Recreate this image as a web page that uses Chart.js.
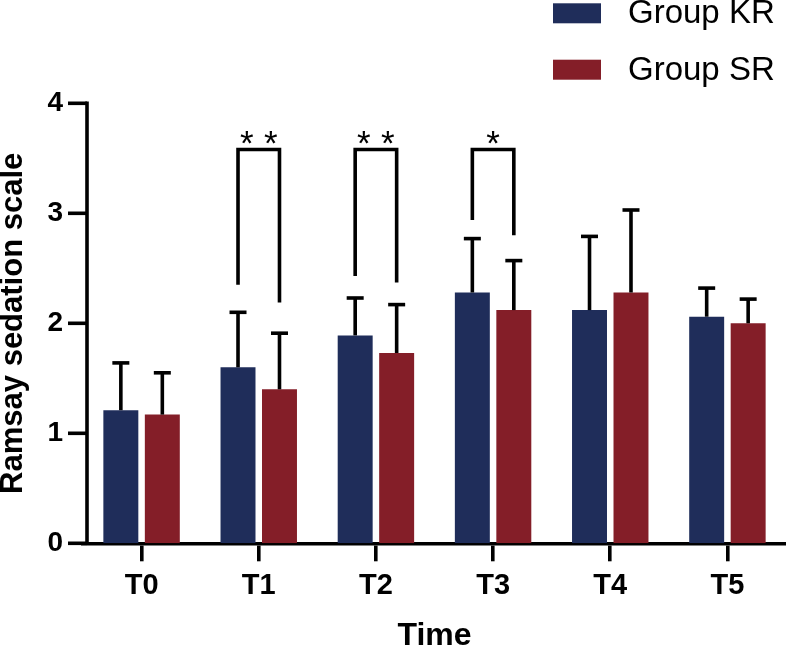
<!DOCTYPE html>
<html><head><meta charset="utf-8">
<script src="https://cdn.jsdelivr.net/npm/chart.js@4"></script>
<style>html,body{margin:0;padding:0;background:#fff;}#wrap{width:786px;height:651px;position:relative;}</style>
</head><body><div id="wrap"><canvas id="c" width="786" height="651"></canvas></div>
<script>
const categories = ['T0', 'T1', 'T2', 'T3', 'T4', 'T5'];
const seriesNames = ['Group KR', 'Group SR'];
const krMean = [1.21, 1.60, 1.89, 2.28, 2.12, 2.06];
const srMean = [1.17, 1.40, 1.73, 2.12, 2.28, 2.00];
const krSD = [0.43, 0.50, 0.34, 0.49, 0.67, 0.26];
const srSD = [0.38, 0.51, 0.44, 0.45, 0.75, 0.22];
const yTicks = [0, 1, 2, 3, 4];
const bracketCats = [1, 2, 3];
const bracketTop = [3.58, 3.58, 3.58];
const bracketLeftEnd = [2.35, 2.43, 2.94];
const bracketRightEnd = [2.19, 2.37, 2.80];
const bracketStars = [2, 2, 1];
const xTitle = 'Time';
const yTitle = 'Ramsay sedation scale';

const FONT = '"Liberation Sans", Arial, Helvetica, sans-serif';
const colors = ['#1f2d5a', '#841e28'];
const sds = [krSD, srSD];

const overlay = {
  id: 'overlay',
  afterDatasetsDraw(chart) {
    const ctx = chart.ctx, ys = chart.scales.y;
    ctx.save();
    ctx.strokeStyle = '#000';
    ctx.lineWidth = 3.6;
    ctx.lineCap = 'butt';
    ctx.lineJoin = 'miter';
    sds.forEach((sd, di) => {
      const meta = chart.getDatasetMeta(di);
      meta.data.forEach((bar, j) => {
        const v = chart.data.datasets[di].data[j];
        const yt = ys.getPixelForValue(v + sd[j]);
        ctx.beginPath(); ctx.moveTo(bar.x, bar.y); ctx.lineTo(bar.x, yt); ctx.stroke();
        ctx.beginPath(); ctx.moveTo(bar.x - 8.5, yt); ctx.lineTo(bar.x + 8.5, yt); ctx.stroke();
      });
    });
    bracketCats.forEach((c, k) => {
      const xl = chart.getDatasetMeta(0).data[c].x;
      const xr = chart.getDatasetMeta(1).data[c].x;
      const yt = ys.getPixelForValue(bracketTop[k]);
      ctx.beginPath();
      ctx.moveTo(xl, ys.getPixelForValue(bracketLeftEnd[k]));
      ctx.lineTo(xl, yt);
      ctx.lineTo(xr, yt);
      ctx.lineTo(xr, ys.getPixelForValue(bracketRightEnd[k]));
      ctx.stroke();
      ctx.fillStyle = '#000';
      ctx.font = '35px ' + FONT;
      ctx.textAlign = 'center';
      ctx.textBaseline = 'alphabetic';
      const cx = (xl + xr) / 2, n = bracketStars[k];
      for (let i = 0; i < n; i++) {
        const sx = cx + (i - (n - 1) / 2) * 24;
        ctx.fillText('*', sx, yt + 5);
      }
    });
    ctx.restore();
  },
  afterDraw(chart) {
    const ctx = chart.ctx, ys = chart.scales.y, area = chart.chartArea;
    ctx.save();
    ctx.strokeStyle = '#000';
    ctx.lineWidth = 3.6;
    const ax = 87;
    ctx.beginPath();
    ctx.moveTo(ax, ys.getPixelForValue(yTicks[yTicks.length - 1]) - 1.8);
    ctx.lineTo(ax, area.bottom + 1.8);
    ctx.stroke();
    yTicks.forEach(t => {
      const py = ys.getPixelForValue(t);
      ctx.beginPath(); ctx.moveTo(68, py); ctx.lineTo(ax, py); ctx.stroke();
    });
    ctx.font = '33px ' + FONT;
    ctx.textAlign = 'left';
    ctx.textBaseline = 'middle';
    chart.data.datasets.forEach((ds, i) => {
      const cy = 13.3 + i * 56.4;
      ctx.fillStyle = ds.backgroundColor;
      ctx.fillRect(553, cy - 10, 48, 20);
      ctx.fillStyle = '#000';
      ctx.fillText(ds.label, 628, cy + 1);
    });
    ctx.restore();
  }
};

new Chart(document.getElementById('c'), {
  type: 'bar',
  data: {
    labels: categories,
    datasets: [
      { label: seriesNames[0], data: krMean, backgroundColor: colors[0], borderWidth: 0 },
      { label: seriesNames[1], data: srMean, backgroundColor: colors[1], borderWidth: 0 }
    ]
  },
  options: {
    responsive: false,
    animation: false,
    devicePixelRatio: 1,
    categoryPercentage: 0.708,
    barPercentage: 0.843,
    layout: { padding: { top: 103.3, left: 0, right: 0, bottom: 0 } },
    plugins: { legend: { display: false }, tooltip: { enabled: false } },
    scales: {
      x: {
        offset: true,
        grid: { display: true, drawOnChartArea: false, drawTicks: true, tickLength: 18, offset: false, color: '#000', lineWidth: 3.6 },
        border: { display: true, color: '#000', width: 3.6 },
        ticks: { color: '#000', font: { family: FONT, size: 29, weight: 'bold' }, padding: 6.8, maxRotation: 0 },
        title: { display: true, text: xTitle, color: '#000', font: { family: FONT, size: 32, weight: 'bold', lineHeight: 0.9 }, padding: 0 },
        afterFit(s) { s.height = 651 - 543.3; }
      },
      y: {
        min: 0, max: 4,
        afterBuildTicks(s) { s.ticks = yTicks.map(v => ({ value: v })); },
        grid: { display: false, drawTicks: false },
        border: { display: false },
        ticks: { color: '#000', font: { family: FONT, size: 28, weight: 'bold' }, padding: 20 },
        title: { display: true, text: yTitle, color: '#000', font: { family: FONT, size: 31, weight: 'bold', lineHeight: 0.85 }, padding: 0 },
        afterFit(s) { s.width = 83; }
      }
    }
  },
  plugins: [overlay]
});
</script></body></html>
